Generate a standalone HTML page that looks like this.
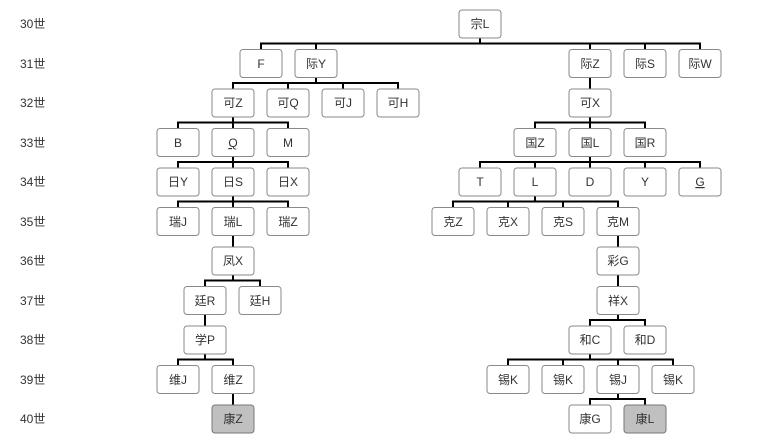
<!DOCTYPE html>
<html><head><meta charset="utf-8"><style>
body{margin:0;background:#fff}
svg{display:block}
text{font-family:"Liberation Sans","Noto Sans CJK SC",sans-serif;font-size:12px;fill:#333}
.b{fill:#fff;stroke:#8a8a8a;stroke-width:1}
.g{fill:#c0c0c0;stroke:#777;stroke-width:1}
path{stroke:#000;stroke-width:2;fill:none}
</style></head><body>
<svg width="767" height="445" viewBox="0 0 767 445">
<g font-size="12">
<text x="20" y="28">30世</text><text x="20" y="68">31世</text><text x="20" y="107">32世</text>
<text x="20" y="147">33世</text><text x="20" y="186">34世</text><text x="20" y="226">35世</text>
<text x="20" y="265">36世</text><text x="20" y="305">37世</text><text x="20" y="344">38世</text>
<text x="20" y="384">39世</text><text x="20" y="423">40世</text>
</g>
<path d="M480 38V43.5M261 49.5V43.5H700V49.5M316 43.5V49.5M590 43.5V49.5M645 43.5V49.5
M316 77.5V83M233 89V83H398V89M288 83V89M343 83V89
M590 77.5V89
M233 117V122.5M178 128.5V122.5H288V128.5M233 122.5V128.5
M590 117V122.5M535 128.5V122.5H645V128.5M590 122.5V128.5
M233 156.5V162M178 168V162H288V168M233 162V168
M590 156.5V162M480 168V162H700V168M535 162V168M590 162V168M645 162V168
M233 196V201.5M178 207.5V201.5H288V207.5M233 201.5V207.5
M535 196V201.5M453 207.5V201.5H618V207.5M508 201.5V207.5M563 201.5V207.5
M233 235.5V247M618 235.5V247
M233 275V280.5M205 286.5V280.5H260V286.5
M618 275V286.5
M205 314.5V326
M618 314.5V320M590 326V320H645V326
M205 354V359.5M178 365.5V359.5H233V365.5
M590 354V359.5M508 365.5V359.5H673V365.5M563 359.5V365.5M618 359.5V365.5
M233 393.5V405
M618 393.5V399M590 405V399H645V405"/>
<g text-anchor="middle">
<!-- r0 -->
<rect class="b" x="459" y="10" width="42" height="28" rx="3"/><text x="480" y="28">宗L</text>
<!-- r1 -->
<rect class="b" x="240" y="49.5" width="42" height="28" rx="3"/><text x="261" y="68">F</text>
<rect class="b" x="295" y="49.5" width="42" height="28" rx="3"/><text x="316" y="68">际Y</text>
<rect class="b" x="569" y="49.5" width="42" height="28" rx="3"/><text x="590" y="68">际Z</text>
<rect class="b" x="624" y="49.5" width="42" height="28" rx="3"/><text x="645" y="68">际S</text>
<rect class="b" x="679" y="49.5" width="42" height="28" rx="3"/><text x="700" y="68">际W</text>
<!-- r2 -->
<rect class="b" x="212" y="89" width="42" height="28" rx="3"/><text x="233" y="107">可Z</text>
<rect class="b" x="267" y="89" width="42" height="28" rx="3"/><text x="288" y="107">可Q</text>
<rect class="b" x="322" y="89" width="42" height="28" rx="3"/><text x="343" y="107">可J</text>
<rect class="b" x="377" y="89" width="42" height="28" rx="3"/><text x="398" y="107">可H</text>
<rect class="b" x="569" y="89" width="42" height="28" rx="3"/><text x="590" y="107">可X</text>
<!-- r3 -->
<rect class="b" x="157" y="128.5" width="42" height="28" rx="3"/><text x="178" y="147">B</text>
<rect class="b" x="212" y="128.5" width="42" height="28" rx="3"/><text x="233" y="147" text-decoration="underline">Q</text>
<rect class="b" x="267" y="128.5" width="42" height="28" rx="3"/><text x="288" y="147">M</text>
<rect class="b" x="514" y="128.5" width="42" height="28" rx="3"/><text x="535" y="147">国Z</text>
<rect class="b" x="569" y="128.5" width="42" height="28" rx="3"/><text x="590" y="147">国L</text>
<rect class="b" x="624" y="128.5" width="42" height="28" rx="3"/><text x="645" y="147">国R</text>
<!-- r4 -->
<rect class="b" x="157" y="168" width="42" height="28" rx="3"/><text x="178" y="186">日Y</text>
<rect class="b" x="212" y="168" width="42" height="28" rx="3"/><text x="233" y="186">日S</text>
<rect class="b" x="267" y="168" width="42" height="28" rx="3"/><text x="288" y="186">日X</text>
<rect class="b" x="459" y="168" width="42" height="28" rx="3"/><text x="480" y="186">T</text>
<rect class="b" x="514" y="168" width="42" height="28" rx="3"/><text x="535" y="186">L</text>
<rect class="b" x="569" y="168" width="42" height="28" rx="3"/><text x="590" y="186">D</text>
<rect class="b" x="624" y="168" width="42" height="28" rx="3"/><text x="645" y="186">Y</text>
<rect class="b" x="679" y="168" width="42" height="28" rx="3"/><text x="700" y="186" text-decoration="underline">G</text>
<!-- r5 -->
<rect class="b" x="157" y="207.5" width="42" height="28" rx="3"/><text x="178" y="226">瑞J</text>
<rect class="b" x="212" y="207.5" width="42" height="28" rx="3"/><text x="233" y="226">瑞L</text>
<rect class="b" x="267" y="207.5" width="42" height="28" rx="3"/><text x="288" y="226">瑞Z</text>
<rect class="b" x="432" y="207.5" width="42" height="28" rx="3"/><text x="453" y="226">克Z</text>
<rect class="b" x="487" y="207.5" width="42" height="28" rx="3"/><text x="508" y="226">克X</text>
<rect class="b" x="542" y="207.5" width="42" height="28" rx="3"/><text x="563" y="226">克S</text>
<rect class="b" x="597" y="207.5" width="42" height="28" rx="3"/><text x="618" y="226">克M</text>
<!-- r6 -->
<rect class="b" x="212" y="247" width="42" height="28" rx="3"/><text x="233" y="265">凤X</text>
<rect class="b" x="597" y="247" width="42" height="28" rx="3"/><text x="618" y="265">彩G</text>
<!-- r7 -->
<rect class="b" x="184" y="286.5" width="42" height="28" rx="3"/><text x="205" y="305">廷R</text>
<rect class="b" x="239" y="286.5" width="42" height="28" rx="3"/><text x="260" y="305">廷H</text>
<rect class="b" x="597" y="286.5" width="42" height="28" rx="3"/><text x="618" y="305">祥X</text>
<!-- r8 -->
<rect class="b" x="184" y="326" width="42" height="28" rx="3"/><text x="205" y="344">学P</text>
<rect class="b" x="569" y="326" width="42" height="28" rx="3"/><text x="590" y="344">和C</text>
<rect class="b" x="624" y="326" width="42" height="28" rx="3"/><text x="645" y="344">和D</text>
<!-- r9 -->
<rect class="b" x="157" y="365.5" width="42" height="28" rx="3"/><text x="178" y="384">维J</text>
<rect class="b" x="212" y="365.5" width="42" height="28" rx="3"/><text x="233" y="384">维Z</text>
<rect class="b" x="487" y="365.5" width="42" height="28" rx="3"/><text x="508" y="384">锡K</text>
<rect class="b" x="542" y="365.5" width="42" height="28" rx="3"/><text x="563" y="384">锡K</text>
<rect class="b" x="597" y="365.5" width="42" height="28" rx="3"/><text x="618" y="384">锡J</text>
<rect class="b" x="652" y="365.5" width="42" height="28" rx="3"/><text x="673" y="384">锡K</text>
<!-- r10 -->
<rect class="g" x="212" y="405" width="42" height="28" rx="3"/><text x="233" y="423">康Z</text>
<rect class="b" x="569" y="405" width="42" height="28" rx="3"/><text x="590" y="423">康G</text>
<rect class="g" x="624" y="405" width="42" height="28" rx="3"/><text x="645" y="423">康L</text>
</g>
</svg>
</body></html>
